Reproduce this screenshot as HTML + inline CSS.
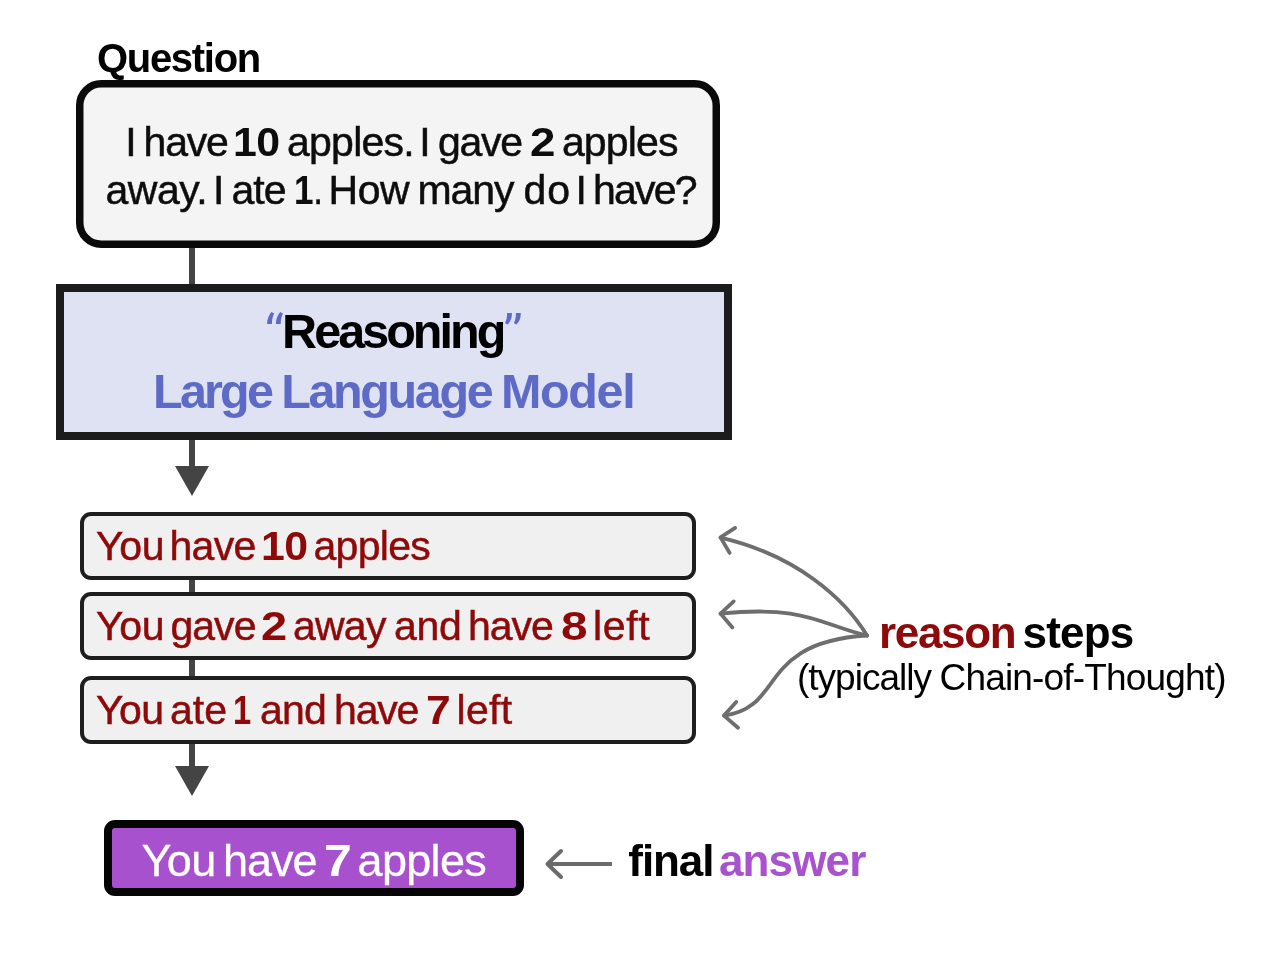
<!DOCTYPE html>
<html>
<head>
<meta charset="utf-8">
<style>
html,body{margin:0;padding:0;background:#fff;}
body{width:1284px;height:960px;position:relative;overflow:hidden;font-family:"Liberation Sans",sans-serif;}
svg.bg{position:absolute;left:0;top:0;}
.t{position:absolute;left:0;white-space:nowrap;line-height:1;will-change:transform;}
.w{position:absolute;top:0;white-space:nowrap;}
</style>
</head>
<body>
<svg class="bg" width="1284" height="960" viewBox="0 0 1284 960">
  <!-- connectors -->
  <rect x="189" y="246" width="6" height="40" fill="#444"/>
  <rect x="189" y="438" width="6" height="30" fill="#444"/>
  <polygon points="175,466 209,466 192,496" fill="#444"/>
  <rect x="189" y="578" width="6" height="16" fill="#444"/>
  <rect x="189" y="658" width="6" height="20" fill="#444"/>
  <rect x="189" y="742" width="6" height="26" fill="#444"/>
  <polygon points="175,766 209,766 192,796" fill="#444"/>
  <!-- question box -->
  <rect x="79.75" y="83.75" width="636.5" height="160.5" rx="21.5" ry="21.5" fill="#f4f4f4" stroke="#0a0a0a" stroke-width="7.5"/>
  <!-- LLM box -->
  <rect x="60" y="288" width="668" height="148" fill="#dfe2f2" stroke="#1c1c1c" stroke-width="8"/>
  <!-- steps -->
  <rect x="82" y="514" width="612" height="64" rx="9" ry="9" fill="#f0f0f0" stroke="#1e1e1e" stroke-width="4"/>
  <rect x="82" y="594" width="612" height="64" rx="9" ry="9" fill="#f0f0f0" stroke="#1e1e1e" stroke-width="4"/>
  <rect x="82" y="678" width="612" height="64" rx="9" ry="9" fill="#f0f0f0" stroke="#1e1e1e" stroke-width="4"/>
  <!-- final box -->
  <rect x="108" y="824" width="412" height="68" rx="7" ry="7" fill="#a851ce" stroke="#050505" stroke-width="8"/>
  <!-- left arrow -->
  <g stroke="#6b6b6b" fill="none" stroke-width="4">
    <line x1="548" y1="864" x2="612" y2="864"/>
    <polyline points="561,851 547.5,864 561,877" stroke-linecap="round" stroke-linejoin="round"/>
  </g>
  <!-- curved arrows -->
  <g stroke="#6e6e6e" fill="none" stroke-width="3.8" stroke-linecap="round" stroke-linejoin="round">
    <path d="M867,635.5 C845.2,599.5 797.3,555.4 720.5,537.6"/>
    <polyline points="735.1,527.9 720.5,537.4 729.6,552.9"/>
    <path d="M867,635.5 C820.4,624.9 806.4,604.8 720.5,613.7"/>
    <polyline points="733.7,601.4 720.5,613.6 732.4,627.4"/>
    <path d="M867,635.5 C756.8,642.2 785.2,707.8 724,715.6"/>
    <polyline points="736.2,702 724,715.6 738,727.8"/>
  </g>
  <!-- quotes -->
  <g fill="#5d6bc6">
    <path d="M267.1,324 L271.9,324 C271.9,319.5 272.6,316.3 274.2,313.4 L271.4,311.9 C268.7,315.3 267.1,319 267.1,324 Z"/>
    <path d="M275.9,324 L280.7,324 C280.7,319.5 281.4,316.3 283,313.4 L280.2,311.9 C277.5,315.3 275.9,319 275.9,324 Z"/>
    <path d="M507.1,313.1 L511.9,313.1 C511.9,317.6 511.2,320.8 507.6,324.6 L505.1,323.2 C506.5,320.2 507.1,317.3 507.1,313.1 Z"/>
    <path d="M515.95,313.1 L520.75,313.1 C520.75,317.6 520.05,320.8 516.45,324.6 L513.95,323.2 C515.35,320.2 515.95,317.3 515.95,313.1 Z"/>
  </g>
</svg>
<div class="t" style="top:38px;font-size:40px;font-weight:bold;color:#000;"><span class="w" style="left:96.96px;letter-spacing:-1.291px;font-weight:bold;">Question</span></div>
<div class="t" style="top:122.2px;font-size:41px;font-weight:normal;color:#0d0d0d;-webkit-text-stroke:0.5px #0d0d0d;"><span class="w" style="left:125.26px;letter-spacing:-1.000px;">I</span><span class="w" style="left:143.50px;letter-spacing:-1.170px;">have</span><span class="w" style="left:233.26px;letter-spacing:-0.500px;transform:scaleX(1.0448);transform-origin:0 0;font-weight:bold;-webkit-text-stroke:0;">10</span><span class="w" style="left:287.06px;letter-spacing:-0.773px;">apples.</span><span class="w" style="left:419.26px;letter-spacing:-1.000px;">I</span><span class="w" style="left:437.90px;letter-spacing:-1.283px;">gave</span><span class="w" style="left:530.06px;letter-spacing:-0.500px;transform:scaleX(1.1154);transform-origin:0 0;font-weight:bold;-webkit-text-stroke:0;">2</span><span class="w" style="left:561.90px;letter-spacing:-0.830px;">apples</span></div>
<div class="t" style="top:170.2px;font-size:41px;font-weight:normal;color:#0d0d0d;-webkit-text-stroke:0.5px #0d0d0d;"><span class="w" style="left:105.38px;letter-spacing:-0.448px;">away.</span><span class="w" style="left:213.12px;letter-spacing:-1.000px;">I</span><span class="w" style="left:231.40px;letter-spacing:-0.915px;">ate</span><span class="w" style="left:293.98px;letter-spacing:-0.500px;transform:scaleX(0.8577);transform-origin:0 0;font-weight:bold;-webkit-text-stroke:0;">1<span style="font-weight:normal;-webkit-text-stroke:0.5px #0d0d0d">.</span></span><span class="w" style="left:328.62px;letter-spacing:-0.490px;">How</span><span class="w" style="left:417.58px;letter-spacing:-1.113px;">many</span><span class="w" style="left:523.42px;letter-spacing:1.040px;">do</span><span class="w" style="left:575.62px;letter-spacing:-1.000px;">I</span><span class="w" style="left:593.08px;letter-spacing:-1.807px;">have?</span></div>
<div class="t" style="top:307px;font-size:48.5px;font-weight:bold;color:#000;"><span class="w" style="left:282.09px;letter-spacing:-2.966px;font-weight:bold;">Reasoning</span></div>
<div class="t" style="top:367px;font-size:48.5px;font-weight:bold;color:#5d6bc6;"><span class="w" style="left:153.08px;letter-spacing:-2.811px;font-weight:bold;">Large</span><span class="w" style="left:281.17px;letter-spacing:-2.365px;font-weight:bold;">Language</span><span class="w" style="left:501.12px;letter-spacing:-1.387px;font-weight:bold;">Model</span></div>
<div class="t" style="top:526px;font-size:41px;font-weight:normal;color:#8e0a0a;-webkit-text-stroke:0.5px #8e0a0a;"><span class="w" style="left:95.90px;letter-spacing:-0.235px;">You</span><span class="w" style="left:169.60px;letter-spacing:-0.773px;">have</span><span class="w" style="left:260.58px;letter-spacing:-0.500px;transform:scaleX(1.0437);transform-origin:0 0;font-weight:bold;-webkit-text-stroke:0;">10</span><span class="w" style="left:313.50px;letter-spacing:-0.694px;">apples</span></div>
<div class="t" style="top:606px;font-size:41px;font-weight:normal;color:#8e0a0a;-webkit-text-stroke:0.5px #8e0a0a;"><span class="w" style="left:95.90px;letter-spacing:-0.235px;">You</span><span class="w" style="left:170.42px;letter-spacing:-0.943px;">gave</span><span class="w" style="left:261.48px;letter-spacing:-0.500px;transform:scaleX(1.1495);transform-origin:0 0;font-weight:bold;-webkit-text-stroke:0;">2</span><span class="w" style="left:293.00px;letter-spacing:-0.773px;">away</span><span class="w" style="left:393.98px;letter-spacing:-0.320px;">and</span><span class="w" style="left:468.08px;letter-spacing:-1.057px;">have</span><span class="w" style="left:560.50px;letter-spacing:-0.500px;transform:scaleX(1.1644);transform-origin:0 0;font-weight:bold;-webkit-text-stroke:0;">8</span><span class="w" style="left:593.08px;letter-spacing:0.587px;">left</span></div>
<div class="t" style="top:690px;font-size:41px;font-weight:normal;color:#8e0a0a;-webkit-text-stroke:0.5px #8e0a0a;"><span class="w" style="left:95.90px;letter-spacing:-0.490px;">You</span><span class="w" style="left:169.88px;letter-spacing:0.105px;">ate</span><span class="w" style="left:232.88px;letter-spacing:-0.500px;transform:scaleX(0.7969);transform-origin:0 0;font-weight:bold;-webkit-text-stroke:0;">1</span><span class="w" style="left:260.02px;letter-spacing:-0.830px;">and</span><span class="w" style="left:334.12px;letter-spacing:-1.227px;">have</span><span class="w" style="left:425.50px;letter-spacing:-0.500px;transform:scaleX(1.0845);transform-origin:0 0;font-weight:bold;-webkit-text-stroke:0;">7</span><span class="w" style="left:456.48px;letter-spacing:0.360px;">left</span></div>
<div class="t" style="top:838px;font-size:45px;font-weight:normal;color:#fff;-webkit-text-stroke:0.3px #fff;"><span class="w" style="left:141.40px;letter-spacing:-0.490px;">You</span><span class="w" style="left:223.08px;letter-spacing:-1.057px;">have</span><span class="w" style="left:323.98px;letter-spacing:-0.500px;transform:scaleX(1.1117);transform-origin:0 0;font-weight:bold;-webkit-text-stroke:0;">7</span><span class="w" style="left:357.52px;letter-spacing:-0.660px;">apples</span></div>
<div class="t" style="top:839px;font-size:44px;font-weight:bold;color:#000;"><span class="w" style="left:628.36px;letter-spacing:-1.085px;font-weight:bold;">final</span><span class="w" style="left:718.98px;letter-spacing:-0.864px;font-weight:bold;color:#a952ce;">answer</span></div>
<div class="t" style="top:611px;font-size:44px;font-weight:bold;color:#000;"><span class="w" style="left:879.12px;letter-spacing:-1.374px;font-weight:bold;color:#8e0a0a;">reason</span><span class="w" style="left:1022.48px;letter-spacing:-0.787px;font-weight:bold;">steps</span></div>
<div class="t" style="top:659px;font-size:37px;font-weight:normal;color:#000;"><span class="w" style="left:797.02px;letter-spacing:-1.000px;">(typically</span><span class="w" style="left:939.52px;letter-spacing:-0.830px;">Chain-of-Thought)</span></div>
</body>
</html>
